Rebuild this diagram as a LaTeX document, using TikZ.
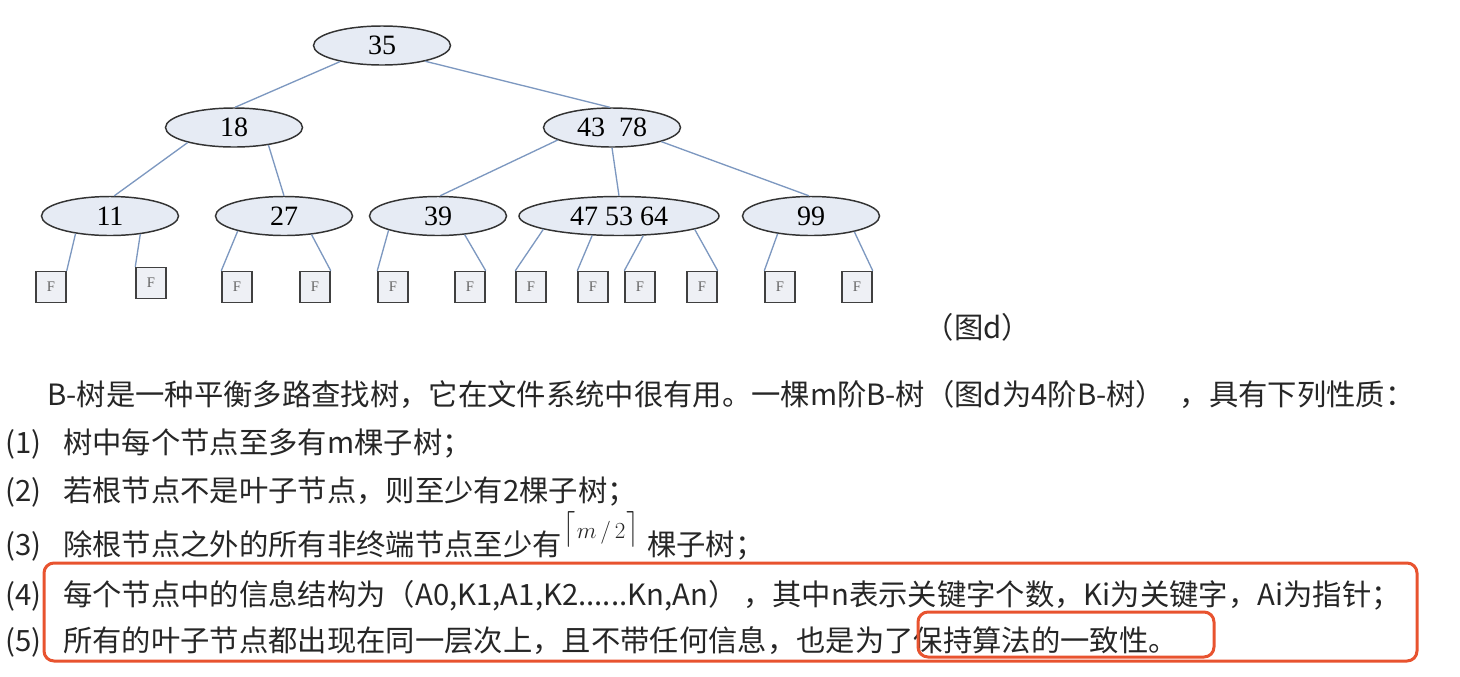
\documentclass[tikz,border=0pt]{standalone}
\usepackage{fontspec}
\setmainfont{Liberation Serif}
\newfontfamily\cjk{Noto Sans CJK SC}
\usetikzlibrary{shapes.geometric}
\definecolor{edgeblue}{HTML}{7D98C0}
\definecolor{nodefill}{HTML}{E6EBF4}
\definecolor{leaffill}{HTML}{EEF0F5}
\definecolor{markred}{HTML}{E8532F}
\newcommand{\itemno}[1]{\makebox[43.5pt][l]{(#1)}}

\begin{document}
\begin{tikzpicture}[x=0.75pt,y=-0.75pt,
    keynode/.style={ellipse,draw=black!80,line width=1.1pt,fill=nodefill,
        minimum width=102.75pt,minimum height=29.25pt,inner sep=0pt,
        font=\fontsize{21}{21}\selectfont},
    leafbox/.style={rectangle,draw=black!75,line width=1.1pt,fill=leaffill,
        minimum width=22.5pt,minimum height=23.25pt,inner sep=0pt,
        font=\fontsize{11}{11}\selectfont,text=black!60},
    link/.style={edgeblue,line width=1pt},
    textline/.style={anchor=base west,inner sep=0pt,
        font=\cjk\fontsize{22}{26}\selectfont,text=black!85}]
            \useasboundingbox (0,0) rectangle (1460,676);

            % the key nodes
            \node[keynode] (n35) at (382,45.5) {35};
            \node[keynode] (n18) at (234,127.5) {18};
            \node[keynode] (n4378) at (612,127.5) {43\hspace{0.5em}78};
            \node[keynode] (n11) at (110,216) {11};
            \node[keynode] (n27) at (284,216) {27};
            \node[keynode] (n39) at (438,216) {39};
            \node[keynode,minimum width=150pt] (n475364) at (619,216) {47 53 64};
            \node[keynode] (n99) at (811,216) {99};

            % the leaves
            \node[leafbox] (f1) at (51,287) {F};
            \node[leafbox] (f2) at (151,283) {F};
            \node[leafbox] (f3) at (237,287) {F};
            \node[leafbox] (f4) at (315,287) {F};
            \node[leafbox] (f5) at (393,287) {F};
            \node[leafbox] (f6) at (470,287) {F};
            \node[leafbox] (f7) at (531,287) {F};
            \node[leafbox] (f8) at (593,287) {F};
            \node[leafbox] (f9) at (640,287) {F};
            \node[leafbox] (f10) at (702,287) {F};
            \node[leafbox] (f11) at (780,287) {F};
            \node[leafbox] (f12) at (857,287) {F};

            % links between the key nodes
            \draw[link] (n35.201) -- (n18.87);
            \draw[link] (n35.340) -- (n4378.96);
            \draw[link] (n18.198) -- (n11.78);
            \draw[link] (n18.333) -- (n27.90);
            \draw[link] (n4378.193) -- (n39.84);
            \draw[link] (n4378.270) -- (n475364.90);
            \draw[link] (n4378.344) -- (n99.96);

            % links to the leaves
            \draw[link] (n11.207) -- (f1.north east);
            \draw[link] (n11.329) -- (f2.north west);
            \draw[link] (n27.198) -- (f3.north west);
            \draw[link] (n27.326) -- (f4.north east);
            \draw[link] (n39.196) -- (f5.north west);
            \draw[link] (n39.325) -- (f6.north east);
            \draw[link] (n475364.190) -- (f7.north west);
            \draw[link] (n475364.216) -- (f8.north west);
            \draw[link] (n475364.321) -- (f9.north west);
            \draw[link] (n475364.350) -- (f10.north east);
            \draw[link] (n99.208) -- (f11.north west);
            \draw[link] (n99.340) -- (f12.north east);

            % caption
            \node[textline,anchor=base] (cap) at (978,338) {（图d）};

            % the text below
            \node[textline] (intro) at (47,405) {B-树是一种平衡多路查找树，它在文件系统中很有用。一棵m阶B-树（图d为4阶B-树）\hspace{0.5em}，具有下列性质：};
            \node[textline] (p1) at (5,453) {\itemno{1}树中每个节点至多有m棵子树；};
            \node[textline] (p2) at (5,501) {\itemno{2}若根节点不是叶子节点，则至少有2棵子树；};
            \node[textline] (p3) at (5,555) {\itemno{3}除根节点之外的所有非终端节点至少有\hspace{1pt}\raisebox{12.4pt}{\scalebox{1}[1.3]{$\lceil$}\hspace{1pt}{\fontsize{17}{17}\selectfont$m\,/\,2$}\hspace{1pt}\scalebox{1}[1.3]{$\rceil$}}\hspace{6pt}棵子树；};
            \node[textline] (p4) at (5,605) {\itemno{4}每个节点中的信息结构为（A0,K1,A1,K2......Kn,An）\hspace{0.2em}，其中n表示关键字个数，Ki为关键字，Ai为指针；};
            \node[textline] (p5) at (5,651) {\itemno{5}所有的叶子节点都出现在同一层次上，且不带任何信息，也是为了保持算法的一致性。};

            % the marks
            \draw[markred,line width=2.25pt,rounded corners=7.5pt] (44,563) rectangle (1417,661);
            \draw[markred,line width=2.25pt,rounded corners=7.5pt] (918,612) rectangle (1214,657);
        \end{tikzpicture}
\end{document}
